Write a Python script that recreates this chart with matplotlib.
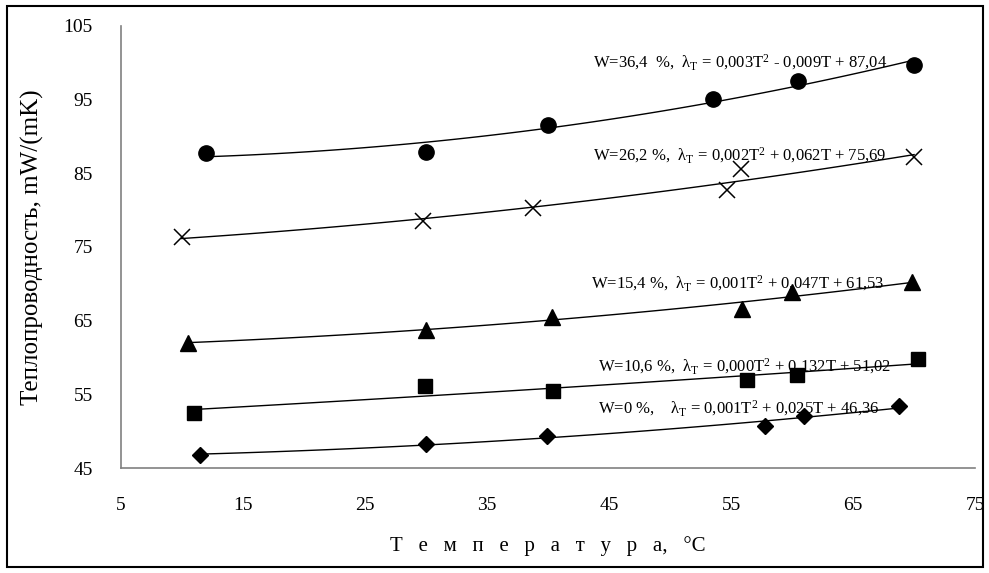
import numpy as np
import matplotlib
matplotlib.use("Agg")
import matplotlib.pyplot as plt
from matplotlib.patches import Rectangle

plt.rcParams['font.family'] = ['Liberation Serif', 'DejaVu Serif']
plt.rcParams['mathtext.fontset'] = 'custom'
plt.rcParams['mathtext.rm'] = 'Liberation Serif'
plt.rcParams['mathtext.it'] = 'Liberation Serif:italic'

# measured points, T in degC, lambda in mW/(mK)
T_w364 = [12, 30, 40, 53.5, 60.5, 70]
L_w364 = [87.7, 87.9, 91.5, 95.1, 97.5, 99.7]

T_w262 = [10, 29.8, 38.8, 54.7, 55.8, 70]
L_w262 = [76.3, 78.5, 80.3, 82.7, 85.6, 87.2]

T_w154 = [10.5, 30, 40.3, 55.9, 60, 69.8]
L_w154 = [62.0, 63.7, 65.5, 66.6, 68.9, 70.2]

T_w106 = [11, 29.9, 40.4, 56.3, 60.4, 70.3]
L_w106 = [52.5, 56.1, 55.4, 56.9, 57.6, 59.8]

T_w0 = [11.5, 30, 39.9, 57.8, 61, 68.8]
L_w0 = [46.8, 48.3, 49.3, 50.7, 52.1, 53.4]

labels = [
    r"W=36,4  %,  $\mathrm{\lambda_T}$ = 0,003T$^2$ - 0,009T + 87,04",
    r"W=26,2 %,  $\mathrm{\lambda_T}$ = 0,002T$^2$ + 0,062T + 75,69",
    r"W=15,4 %,  $\mathrm{\lambda_T}$ = 0,001T$^2$ + 0,047T + 61,53",
    r"W=10,6 %,  $\mathrm{\lambda_T}$ = 0,000T$^2$ + 0,132T + 51,02",
    r"W=0 %,    $\mathrm{\lambda_T}$ = 0,001T$^2$ + 0,025T + 46,36",
]
label_pos = [(43.7, 100.0), (43.7, 87.5), (43.5, 70.1), (44.1, 58.8), (44.1, 53.1)]

series = [
    (T_w364, L_w364, 'o', 11),
    (T_w262, L_w262, 'x', 11),
    (T_w154, L_w154, '^', 11),
    (T_w106, L_w106, 's', 10),
    (T_w0, L_w0, 'D', 8),
]

fig = plt.figure(figsize=(9.89, 5.73), dpi=100)
ax = fig.add_axes([0.122, 0.183, 0.864, 0.772])

for (t, l, m, ms), lab, pos in zip(series, labels, label_pos):
    c = np.polyfit(t, l, 2)
    tt = np.linspace(min(t), max(t), 100)
    ax.plot(tt, np.polyval(c, tt), c="black", lw=1)
    if m == 'x':
        ax.plot(t, l, ls="none", marker=m, ms=ms, mec="black", mew=1.1)
    else:
        ax.plot(t, l, ls="none", marker=m, ms=ms, mfc="black", mec="black")
    ax.text(pos[0], pos[1], lab, fontsize=12, va="center", ha="left")

ax.set_xlim(5, 75)
ax.set_ylim(45, 105)
ax.set_xticks(np.arange(5, 76, 10))
ax.set_yticks(np.arange(45, 106, 10))
ax.tick_params(length=0, labelsize=14)
ax.tick_params(axis="x", pad=21)
ax.tick_params(axis="y", pad=20)
for s in ["top", "right"]:
    ax.spines[s].set_visible(False)
for s in ["left", "bottom"]:
    ax.spines[s].set_color("#808080")
    ax.spines[s].set_linewidth(1.2)

ax.set_xlabel("Т   е   м   п   е   р   а   т   у   р   а,   °С", fontsize=15, labelpad=16)
ax.set_ylabel("Теплопроводность, mW/(mK)", fontsize=18, labelpad=14)

fig.patches.append(Rectangle((7/989, 6/573), 976/989, 561/573, transform=fig.transFigure,
                             fill=False, ec="black", lw=1.5))

fig.savefig("out.png", dpi=100)
